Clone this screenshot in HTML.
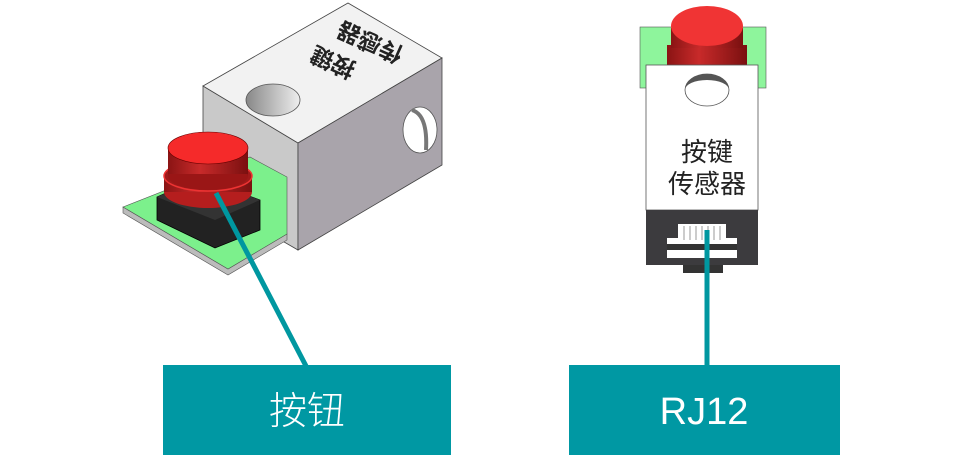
<!DOCTYPE html>
<html><head><meta charset="utf-8"><style>
html,body{margin:0;padding:0;background:#fff;width:961px;height:462px;overflow:hidden}
svg{display:block}
text{font-family:"Liberation Sans","Noto Sans CJK SC",sans-serif}
</style></head><body>
<svg width="961" height="462" viewBox="0 0 961 462" xmlns="http://www.w3.org/2000/svg">
<defs>
<linearGradient id="red" x1="0" x2="1"><stop offset="0" stop-color="#8a1414"/><stop offset="0.4" stop-color="#c82a2a"/><stop offset="1" stop-color="#7a1010"/></linearGradient>
<linearGradient id="hole" x1="0" x2="1"><stop offset="0" stop-color="#888"/><stop offset="1" stop-color="#eee"/></linearGradient>
</defs>
<!-- LEFT DEVICE -->
<polygon points="203,86 298,143 298,250 203,195" fill="#c9c9c9" stroke="#444" stroke-width="0.8"/>
<polygon points="203,86 348,3 442,58 298,143" fill="#f2f2f2" stroke="#444" stroke-width="0.8"/>
<polygon points="298,143 442,58 442,165 298,250" fill="#a9a4ab" stroke="#444" stroke-width="0.8"/>
<ellipse cx="273" cy="100" rx="27" ry="16" fill="url(#hole)" stroke="#555" stroke-width="0.8"/>
<ellipse cx="420" cy="130" rx="17" ry="23" fill="#fff" stroke="#555" stroke-width="0.8"/>
<path d="M412,110 Q428,115 426,150" fill="none" stroke="#777" stroke-width="4"/>
<text x="0" y="0" font-size="23" font-weight="bold" fill="#222" text-anchor="middle" dominant-baseline="central" transform="translate(333,62) rotate(204)">按键</text>
<text x="0" y="0" font-size="23" font-weight="bold" fill="#222" text-anchor="middle" dominant-baseline="central" transform="translate(370,42) rotate(204)">传感器</text>
<!-- pcb -->
<polygon points="123,207 123,213 228,275 287,240 287,234 228,269" fill="#bbb" stroke="#555" stroke-width="0.6"/>
<polygon points="123,207 250,157 287,177 287,234 228,269" fill="#7cf08c" stroke="#555" stroke-width="0.6"/>
<!-- black base -->
<polygon points="157,197 200,178 260,200 260,230 215,248 157,220" fill="#222" stroke="#000" stroke-width="0.8"/>
<polygon points="157,197 200,178 260,200 215,220" fill="#333"/>
<!-- red cap -->
<ellipse cx="208" cy="192" rx="44" ry="16" fill="#b51e1e"/>
<rect x="164" y="176" width="88" height="16" fill="url(#red)"/>
<ellipse cx="208" cy="176" rx="44" ry="15" fill="#a01a1a" stroke="#e33" stroke-width="1.5"/>
<rect x="168" y="148" width="80" height="28" fill="url(#red)"/>
<ellipse cx="208" cy="176" rx="40" ry="14" fill="#9a1616"/>
<rect x="168" y="148" width="80" height="26" fill="url(#red)"/>
<ellipse cx="208" cy="148" rx="40" ry="16" fill="#f52a2a" stroke="#600" stroke-width="0.6"/>
<line x1="216" y1="193" x2="306" y2="366" stroke="#0097a0" stroke-width="5"/>
<rect x="163" y="365" width="288" height="90" fill="#0098a3"/>
<text x="307" y="424" font-size="38" fill="#fff" text-anchor="middle" font-weight="300">按钮</text>

<!-- RIGHT DEVICE -->
<rect x="640" y="27" width="126" height="61" fill="#8ef59c" stroke="#555" stroke-width="0.6"/>
<rect x="667" y="45" width="80" height="25" fill="url(#red)"/>
<rect x="671" y="28" width="72" height="20" fill="url(#red)"/>
<ellipse cx="707" cy="26" rx="36" ry="20" fill="#f03434"/>
<rect x="646" y="65" width="112" height="145" fill="#fff" stroke="#555" stroke-width="0.8"/>
<ellipse cx="707" cy="90" rx="22" ry="16" fill="#fff" stroke="#555" stroke-width="0.8"/>
<path d="M685,90 A22,16 0 0 1 729,90 A22,10 0 0 0 685,90 Z" fill="#555"/>
<text x="707" y="161" font-size="26" fill="#222" text-anchor="middle">按键</text>
<text x="707" y="193" font-size="26" fill="#222" text-anchor="middle">传感器</text>
<rect x="646" y="210" width="112" height="55" fill="#3c3b3e"/>
<rect x="683" y="265" width="40" height="8" fill="#333"/>
<rect x="667" y="238" width="70" height="20" fill="#fff"/>
<rect x="678" y="224" width="48" height="16" fill="#fff"/>
<rect x="667" y="244" width="70" height="6" fill="#333"/>
<g stroke="#999" stroke-width="1"><line x1="684" y1="226" x2="684" y2="240"/><line x1="690" y1="226" x2="690" y2="240"/><line x1="696" y1="226" x2="696" y2="240"/><line x1="702" y1="226" x2="702" y2="240"/><line x1="708" y1="226" x2="708" y2="240"/><line x1="714" y1="226" x2="714" y2="240"/><line x1="720" y1="226" x2="720" y2="240"/></g>
<line x1="707" y1="230" x2="707" y2="366" stroke="#0097a0" stroke-width="5"/>
<rect x="569" y="365" width="271" height="90" fill="#0098a3"/>
<text x="704" y="424" font-size="38" fill="#fff" text-anchor="middle" font-weight="300">RJ12</text>
</svg>
</body></html>
